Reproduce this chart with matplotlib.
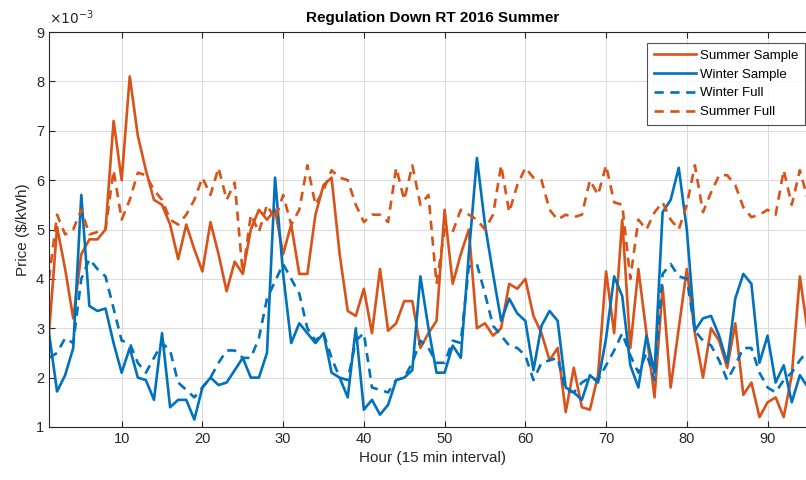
import numpy as np
import matplotlib
matplotlib.use('Agg')
import matplotlib.pyplot as plt

plt.rcParams['font.family'] = ['Liberation Sans', 'DejaVu Sans']

# Datos (precio en unidades de 1e-3 $/kWh), 96 intervalos de 15 min
hour = np.arange(1, 97)

summer_sample = [2.9, 5.05, 4.2, 3.2, 4.5, 4.8, 4.8, 5.0, 7.2, 6.0,
                 8.1, 6.9, 6.2, 5.6, 5.5, 5.1, 4.4, 5.1, 4.6, 4.15,
                 5.15, 4.5, 3.75, 4.35, 4.1, 5.0, 5.4, 5.2, 5.4, 4.5,
                 5.1, 4.1, 4.1, 5.3, 5.9, 6.05, 4.5, 3.35, 3.25, 3.8,
                 2.9, 4.2, 2.95, 3.1, 3.55, 3.55, 2.6, 2.9, 3.15, 5.4,
                 3.9, 4.5, 5.0, 3.0, 3.1, 2.85, 3.0, 3.9, 3.8, 4.0,
                 3.25, 2.9, 2.35, 2.6, 1.3, 2.2, 1.4, 1.35, 2.05, 4.15,
                 2.9, 5.2, 2.6, 4.2, 2.9, 1.6, 3.85, 1.8, 3.0, 4.2,
                 2.9, 2.0, 3.0, 2.75, 2.2, 3.1, 1.65, 1.9, 1.2, 1.5,
                 1.6, 1.2, 2.05, 4.05, 2.9, 2.5]

winter_sample = [2.9, 1.72, 2.05, 2.6, 5.7, 3.45, 3.35, 3.4, 2.7, 2.1,
                 2.6, 2.0, 1.95, 1.55, 2.9, 1.4, 1.55, 1.55, 1.15, 1.8,
                 2.0, 1.85, 1.9, 2.15, 2.4, 2.0, 2.0, 2.5, 6.05, 4.1,
                 2.7, 3.1, 2.9, 2.7, 2.9, 2.1, 2.0, 1.6, 3.0, 1.35,
                 1.55, 1.25, 1.45, 1.95, 2.0, 2.15, 4.05, 3.0, 2.1, 2.1,
                 2.65, 2.4, 4.5, 6.45, 5.1, 4.1, 3.15, 3.6, 3.3, 3.15,
                 2.15, 3.05, 3.35, 3.15, 1.8, 1.7, 1.55, 2.05, 1.9, 2.8,
                 4.05, 3.65, 2.25, 1.8, 2.85, 2.1, 5.35, 5.6, 6.25, 5.0,
                 2.95, 3.2, 3.25, 2.85, 2.3, 3.6, 4.1, 3.9, 2.3, 2.85,
                 1.9, 2.25, 1.5, 2.05, 1.8, 1.7]

winter_full = [2.4, 2.5, 2.8, 2.7, 4.0, 4.4, 4.2, 4.05, 3.4, 2.75,
               2.7, 2.3, 2.1, 2.4, 2.7, 2.55, 1.9, 1.75, 1.6, 1.8,
               2.0, 2.3, 2.55, 2.55, 2.4, 2.4, 2.8, 3.6, 3.95, 4.3,
               4.0, 3.7, 3.0, 2.75, 2.9, 2.4, 2.0, 1.95, 2.75, 2.9,
               1.8, 1.75, 1.7, 1.95, 2.0, 2.3, 2.75, 2.6, 2.3, 2.3,
               2.75, 2.7, 4.25, 4.3, 3.7, 3.05, 2.85, 2.65, 2.6, 2.45,
               1.95, 2.3, 2.35, 2.4, 1.75, 1.7, 1.9, 2.0, 1.95, 2.25,
               2.55, 2.9, 2.45, 2.1, 2.5, 1.95, 4.1, 4.3, 4.05, 4.0,
               2.95, 2.75, 2.65, 2.35, 1.95, 2.25, 2.6, 2.6, 2.1, 1.8,
               1.7, 1.95, 2.1, 2.35, 2.55, 2.6]

summer_full = [4.0, 5.3, 4.9, 5.0, 5.4, 4.9, 4.95, 5.0, 6.2, 5.2,
               5.6, 6.15, 6.1, 5.8, 5.6, 5.2, 5.1, 5.3, 5.6, 6.05,
               5.7, 6.25, 5.6, 5.95, 4.1, 5.3, 4.95, 5.5, 5.2, 5.7,
               5.1, 5.4, 6.3, 5.5, 5.8, 6.2, 6.05, 6.0, 5.5, 5.15,
               5.3, 5.3, 5.15, 6.25, 5.6, 6.3, 5.5, 5.7, 3.9, 5.0,
               4.95, 5.4, 5.3, 5.2, 5.0, 5.3, 6.3, 5.35, 5.9, 6.25,
               6.05, 6.0, 5.4, 5.2, 5.3, 5.25, 5.3, 6.0, 5.7, 6.3,
               5.55, 5.5, 4.0, 5.2, 5.0, 5.35, 5.55, 5.2, 5.0, 5.5,
               6.3, 5.35, 5.75, 6.1, 6.1, 5.9, 5.45, 5.25, 5.3, 5.4,
               5.3, 6.2, 5.5, 6.2, 5.6, 5.8]

orange = '#D95319'
blue = '#0072BD'

fig = plt.figure(figsize=(8.06, 4.8), dpi=100)
# el eje derecho queda fuera de la imagen, como en la referencia
ax = fig.add_axes([49/806, 53/480, 767/806, 395/480])

dash = (0, (3.5, 2.5))
ax.plot(hour, summer_sample, color=orange, lw=1.9, label='Summer Sample')
ax.plot(hour, winter_sample, color=blue, lw=1.9, label='Winter Sample')
ax.plot(hour, winter_full, color=blue, lw=1.9, ls=dash, label='Winter Full')
ax.plot(hour, summer_full, color=orange, lw=1.9, ls=dash, label='Summer Full')

ax.set_xlim(1, 96)
ax.set_ylim(1, 9)
ax.set_xticks(np.arange(10, 100, 10))
ax.set_yticks(np.arange(1, 10))
ax.grid(True, color='#dcdcdc', lw=0.8)
ax.set_axisbelow(True)
ax.tick_params(direction='in', top=True, right=True, labelsize=10.5,
               colors='#262626', length=4)
for s in ax.spines.values():
    s.set_color('#262626')
    s.set_linewidth(0.8)

ax.text(0.0, 1.012, r'$\times10^{-3}$', transform=ax.transAxes,
        fontsize=10, color='#262626', ha='left', va='bottom')

ax.set_title('Regulation Down RT 2016 Summer', fontsize=11, fontweight='bold',
             color='black', pad=7)
ax.set_xlabel('Hour (15 min interval)', fontsize=11, color='#262626')
ax.set_ylabel('Price ($/kWh)', fontsize=11, color='#262626')

leg = fig.legend(loc='upper right', bbox_to_anchor=(805/806, 1 - 43/480),
                 fontsize=9.5, handlelength=3.2, frameon=True, fancybox=False,
                 borderpad=0.5, labelspacing=0.5, handletextpad=0.3,
                 borderaxespad=0.0)
leg.get_frame().set_edgecolor('#262626')
leg.get_frame().set_linewidth(0.8)

fig.savefig('out.png', dpi=100)
